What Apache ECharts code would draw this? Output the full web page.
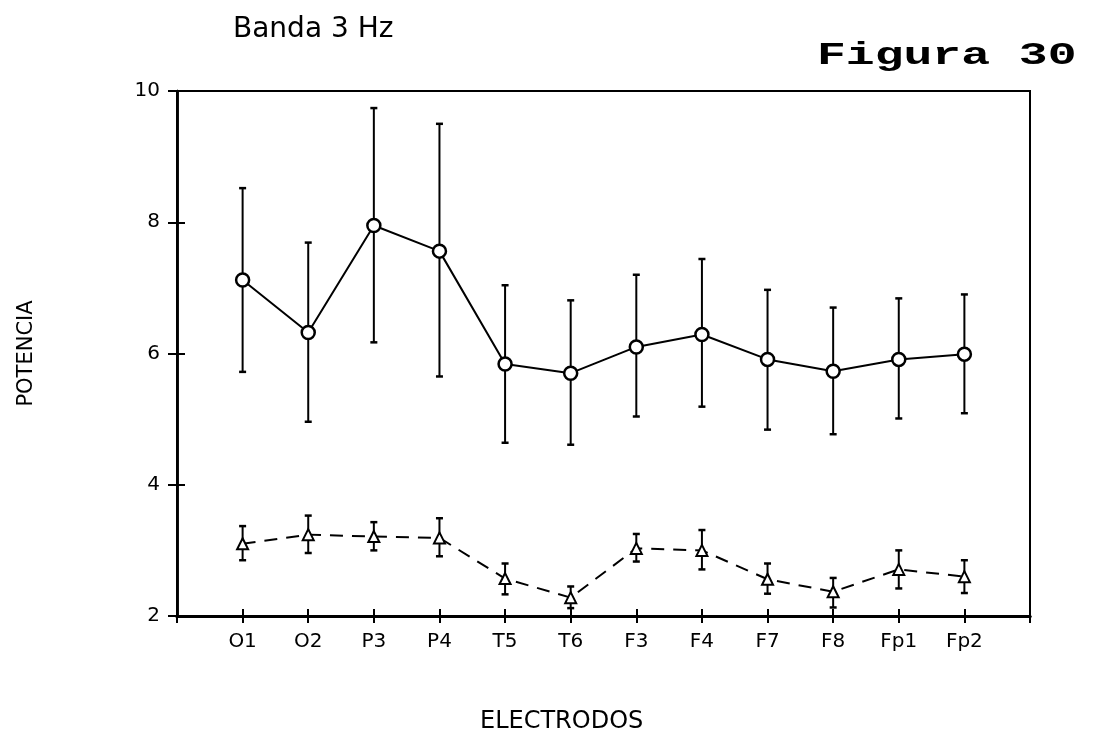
<!DOCTYPE html>
<html>
<head>
<meta charset="utf-8">
<script src="https://cdn.jsdelivr.net/npm/echarts@6/dist/echarts.min.js"></script>
<style>
  html, body { margin: 0; padding: 0; background: #fff; }
  #chart { width: 1105px; height: 746px; }
  .fig-label {
    position: absolute;
    left: 817px;
    top: 40px;
    font-family: 'Liberation Mono', 'DejaVu Sans Mono', monospace;
    font-weight: bold;
    font-size: 31px;
    line-height: 31px;
    white-space: pre;
    transform: scaleX(1.55);
    transform-origin: left top;
    color: #000;
  }
</style>
</head>
<body>
<div id="chart"></div>
<div class="fig-label">Figura 30</div>
<script>
const categories = ['O1', 'O2', 'P3', 'P4', 'T5', 'T6', 'F3', 'F4', 'F7', 'F8', 'Fp1', 'Fp2']
const yTicks = [2, 4, 6, 8, 10]

// serie superior (círculos, línea continua)
const meanA = [7.12, 6.32, 7.95, 7.56, 5.84, 5.70, 6.10, 6.29, 5.91, 5.73, 5.91, 5.99]
const upperA = [8.52, 7.69, 9.74, 9.50, 7.04, 6.81, 7.20, 7.44, 6.97, 6.70, 6.84, 6.90]
const lowerA = [5.72, 4.96, 6.17, 5.65, 4.64, 4.61, 5.04, 5.19, 4.84, 4.77, 5.01, 5.09]

// serie inferior (triángulos, línea discontinua)
const meanB = [3.10, 3.24, 3.21, 3.19, 2.57, 2.28, 3.03, 3.00, 2.56, 2.37, 2.71, 2.60]
const upperB = [3.37, 3.53, 3.43, 3.49, 2.80, 2.45, 3.25, 3.31, 2.80, 2.58, 3.00, 2.85]
const lowerB = [2.85, 2.96, 3.00, 2.91, 2.33, 2.12, 2.83, 2.71, 2.34, 2.13, 2.42, 2.35]

const font = "'DejaVu Sans', sans-serif"

function toPoints(values) {
  return values.map((v, i) => [i + 1, v])
}
function toBars(lower, upper) {
  return lower.map((v, i) => [i + 1, v, upper[i]])
}

function errorBarSeries(lower, upper) {
  return {
    type: 'custom',
    z: 1,
    data: toBars(lower, upper),
    renderItem: function (params, api) {
      const lo = api.coord([api.value(0), api.value(1)])
      const hi = api.coord([api.value(0), api.value(2)])
      const half = 3.5
      const style = { stroke: '#000', lineWidth: 2 }
      const capStyle = { stroke: '#000', lineWidth: 2.5 }
      return {
        type: 'group',
        children: [
          { type: 'line', shape: { x1: lo[0], y1: lo[1], x2: hi[0], y2: hi[1] }, style },
          { type: 'line', shape: { x1: hi[0] - half, y1: hi[1], x2: hi[0] + half, y2: hi[1] }, style: capStyle },
          { type: 'line', shape: { x1: lo[0] - half, y1: lo[1], x2: lo[0] + half, y2: lo[1] }, style: capStyle }
        ]
      }
    }
  }
}

const xBase = {
  type: 'value',
  min: 0,
  max: categories.length + 1,
  interval: 1,
  splitLine: { show: false },
  axisLine: { lineStyle: { color: '#000', width: 3 } }
}
const yBase = {
  type: 'value',
  min: yTicks[0],
  max: yTicks[yTicks.length - 1],
  interval: 2,
  splitLine: { show: false },
  axisLine: { lineStyle: { color: '#000', width: 2.5 } }
}

const chart = echarts.init(document.getElementById('chart'))
chart.setOption({
  animation: false,
  title: [
    {
      text: 'Banda 3 Hz',
      left: 228,
      top: 11,
      textStyle: { fontFamily: font, fontWeight: 'normal', fontSize: 28, color: '#000' }
    },
    {
      text: 'ELECTRODOS',
      left: 480,
      top: 710,
      padding: 0,
      textStyle: { fontFamily: font, fontWeight: 'normal', fontSize: 24, color: '#000' }
    }
  ],
  grid: {
    left: 177,
    right: 75,
    top: 91,
    bottom: 130,
    show: true,
    borderColor: '#000',
    borderWidth: 2
  },
  xAxis: [
    Object.assign({}, xBase, {
      axisTick: { length: 7, lineStyle: { color: '#000', width: 2 } },
      axisLabel: {
        margin: 16,
        fontFamily: font,
        fontSize: 20,
        color: '#000',
        formatter: (v) => categories[v - 1] || ''
      }
    }),
    Object.assign({}, xBase, {
      position: 'bottom',
      axisTick: { inside: true, length: 7, lineStyle: { color: '#000', width: 2 } },
      axisLabel: { show: false }
    })
  ],
  yAxis: [
    Object.assign({}, yBase, {
      name: 'POTENCIA',
      nameLocation: 'middle',
      nameGap: 140,
      nameTextStyle: { fontFamily: font, fontSize: 21, color: '#000' },
      axisTick: { length: 9, lineStyle: { color: '#000', width: 2 } },
      axisLabel: { margin: 17, fontFamily: font, fontSize: 20, color: '#000' }
    }),
    Object.assign({}, yBase, {
      position: 'left',
      axisTick: { inside: true, length: 8, lineStyle: { color: '#000', width: 2 } },
      axisLabel: { show: false }
    })
  ],
  series: [
    errorBarSeries(lowerA, upperA),
    errorBarSeries(lowerB, upperB),
    {
      type: 'line',
      z: 3,
      data: toPoints(meanA),
      symbol: 'circle',
      symbolSize: 13,
      lineStyle: { color: '#000', width: 2 },
      itemStyle: { color: '#fff', borderColor: '#000', borderWidth: 2.5 }
    },
    {
      type: 'line',
      z: 3,
      data: toPoints(meanB),
      symbol: 'triangle',
      symbolSize: 11,
      lineStyle: { color: '#000', width: 2, type: [13, 9] },
      itemStyle: { color: '#fff', borderColor: '#000', borderWidth: 2 }
    }
  ]
})
</script>
</body>
</html>
